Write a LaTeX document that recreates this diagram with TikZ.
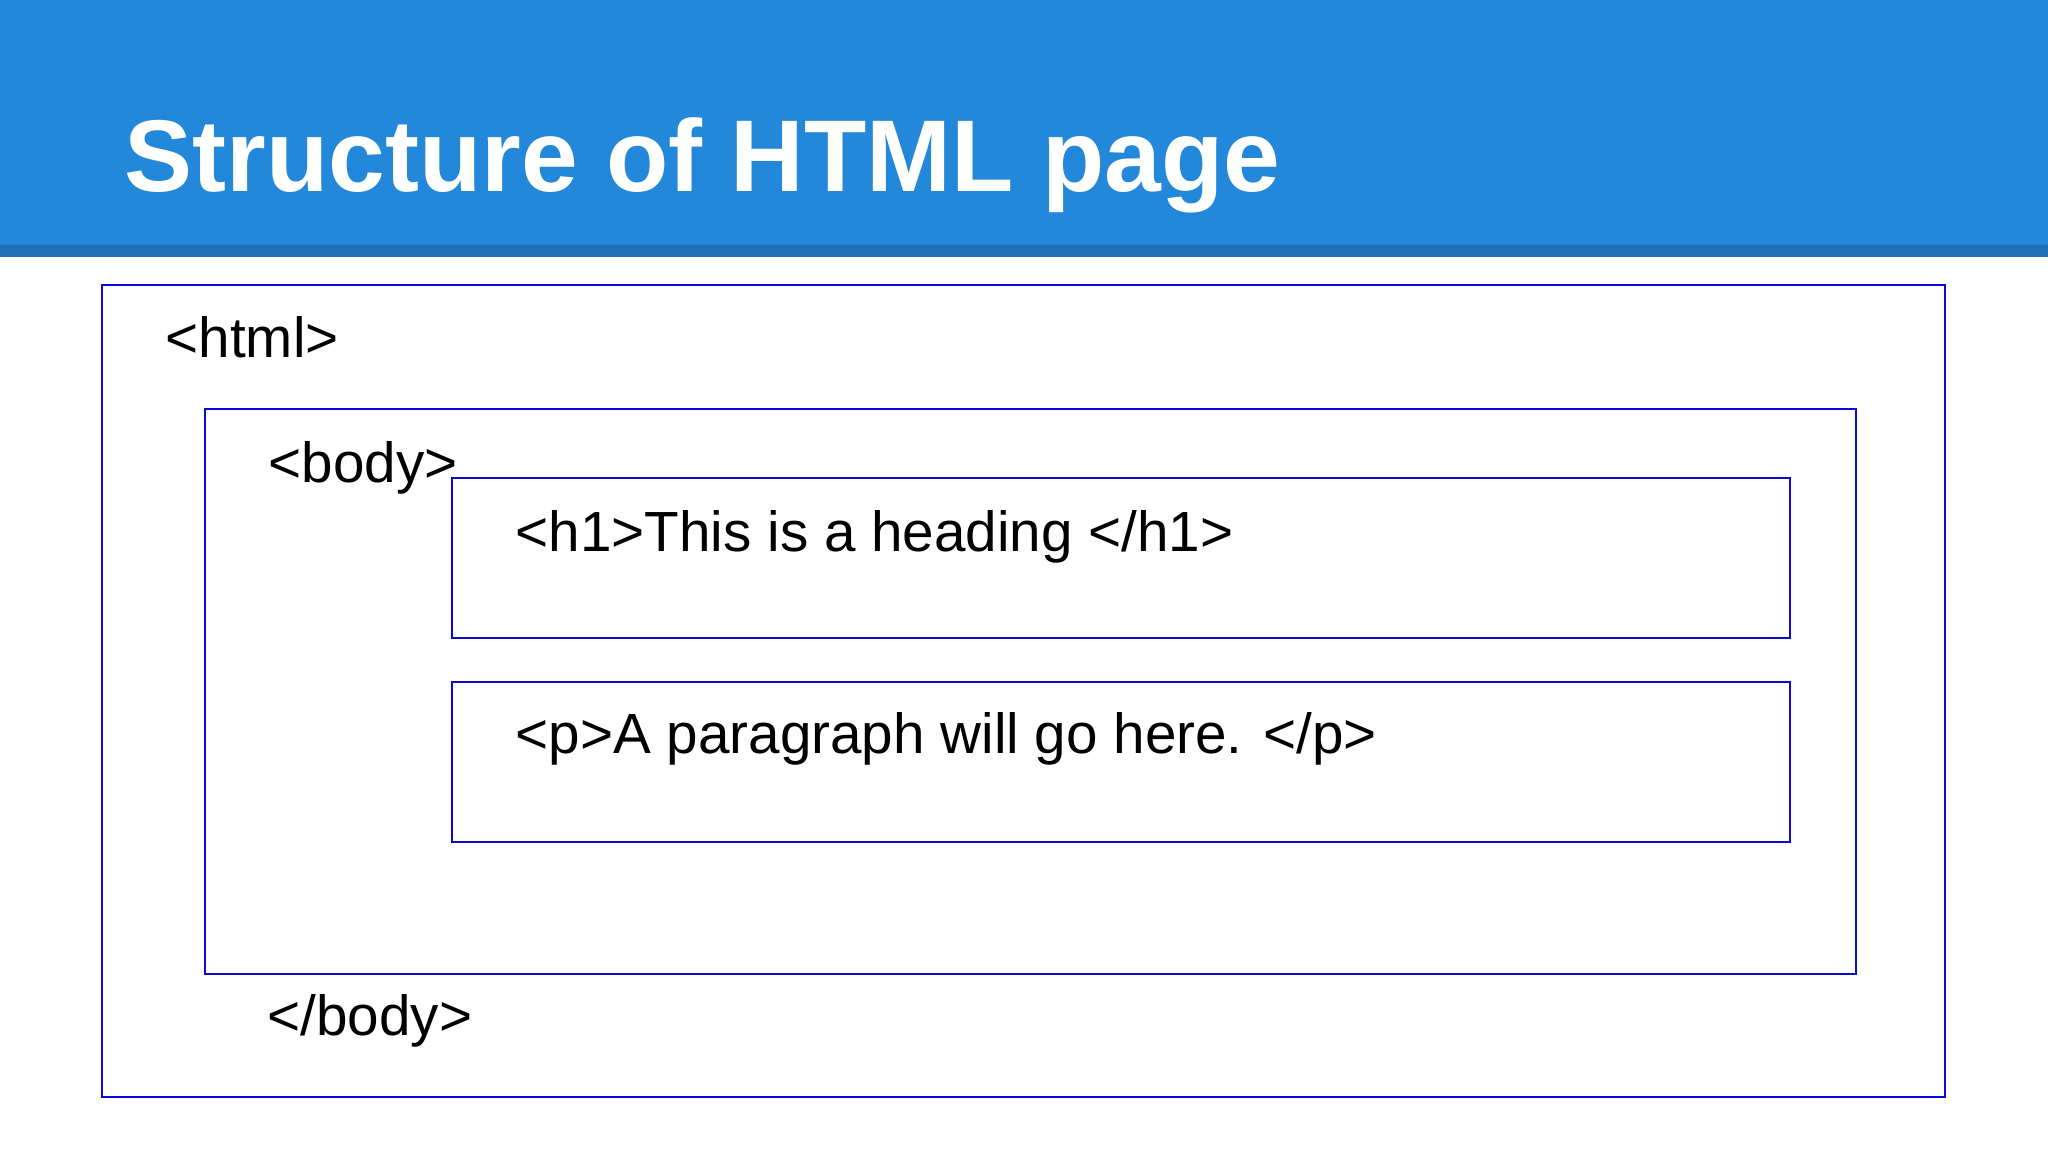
\documentclass[tikz,border=0pt]{standalone}
\usepackage{fontspec}
\setmainfont{Liberation Sans}
\usepackage{tikz}
\definecolor{headBlue}{RGB}{36,136,218}
\definecolor{headShade}{RGB}{31,111,182}
\definecolor{boxBlue}{RGB}{10,10,215}
\newcommand{\slideFont}[0]{\fontsize{16.1pt}{19pt}\selectfont}
\newcommand{\titleFont}[0]{\fontsize{29pt}{34pt}\selectfont\bfseries}

\begin{document}
\begin{tikzpicture}[x=0.01cm, y=-0.01cm]
  \tikzset{tagbox/.style={draw=boxBlue, line width=0.7pt},
           tag/.style={anchor=base west, inner sep=0pt, font=\slideFont}}
  \useasboundingbox (0,0) rectangle (2048,1152);
  \fill[headBlue] (0,0) rectangle (2048,245);
  \fill[headShade] (0,245) rectangle (2048,257);
  \node[anchor=base west, inner sep=0pt, text=white, font=\titleFont] (title) at (124,192) {Structure of HTML page};
  % nested boxes
  \draw[tagbox] (102,285) rectangle (1945,1097);
  \draw[tagbox] (205,409) rectangle (1856,974);
  \draw[tagbox] (452,478) rectangle (1790,638);
  \draw[tagbox] (452,682) rectangle (1790,842);
  \node[tag] (html) at (165,358) {<html>};
  \node[tag] (body) at (268,482) {<body>};
  \node[tag] (h1) at (515,551) {<h1>This is a heading </h1>};
  \node[tag] (p) at (515,753) {<p>A paragraph will go here. </p>};
  \node[tag] (bodyend) at (267,1035) {</body>};
\end{tikzpicture}
\end{document}
